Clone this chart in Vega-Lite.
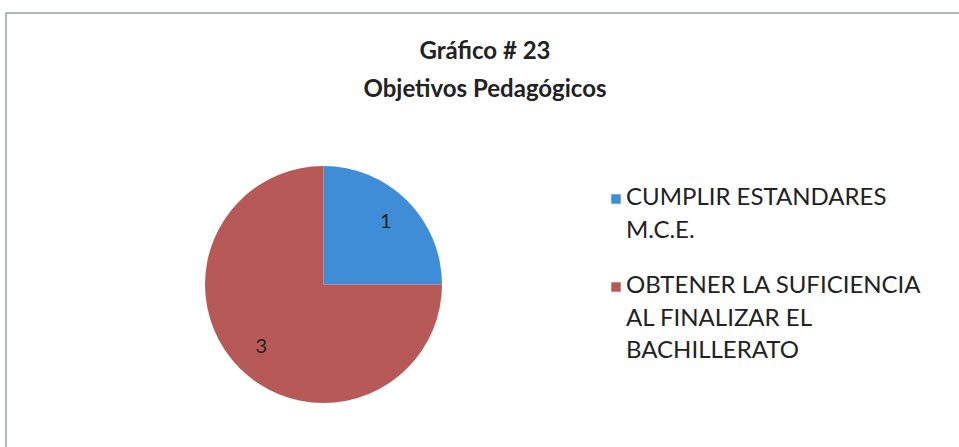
{
  "$schema": "https://vega.github.io/schema/vega-lite/v6.json",
  "width": 958,
  "height": 440,
  "autosize": {"type": "none"},
  "padding": {"left": 6, "top": 13, "right": 0, "bottom": 0},
  "background": "white",
  "title": {
    "text": ["Gráfico # 23", "Objetivos Pedagógicos"],
    "font": "Lato",
    "fontSize": 24,
    "fontWeight": "bold",
    "color": "#222222",
    "lineHeight": 38,
    "anchor": "middle",
    "frame": "group",
    "baseline": "top",
    "offset": -90
  },
  "config": {"view": {"stroke": null}},
  "data": {
    "values": [
      {"objetivo": "CUMPLIR ESTANDARES M.C.E.", "cantidad": 1, "orden": 1},
      {"objetivo": "OBTENER LA SUFICIENCIA AL FINALIZAR EL BACHILLERATO", "cantidad": 3, "orden": 2}
    ]
  },
  "layer": [
    {
      "data": {"values": [{"marco": "borde"}]},
      "mark": {"type": "rect", "fill": null, "stroke": "#93a2a0", "strokeWidth": 1.5},
      "encoding": {}
    },
    {
      "mark": {"type": "arc", "outerRadius": 118.5, "x": 317.5, "y": 271.5},
      "encoding": {
        "theta": {"field": "cantidad", "type": "quantitative", "stack": true},
        "order": {"field": "orden", "type": "quantitative"},
        "color": {
          "field": "objetivo",
          "type": "nominal",
          "sort": ["CUMPLIR ESTANDARES M.C.E.", "OBTENER LA SUFICIENCIA AL FINALIZAR EL BACHILLERATO"],
          "scale": {"range": ["#3E8DD6", "#B75A57"]},
          "legend": {
            "orient": "none",
            "legendX": 598,
            "legendY": 174,
            "title": null,
            "symbolType": "square",
            "symbolSize": 90,
            "symbolStrokeWidth": 0,
            "labelFont": "Lato",
            "labelFontSize": 24,
            "labelColor": "#222222",
            "labelLimit": 0,
            "labelOffset": -2,
            "labelBaseline": "top",
            "rowPadding": 31,
            "labelExpr": "datum.label == 'CUMPLIR ESTANDARES M.C.E.' ? ['CUMPLIR ESTANDARES', 'M.C.E.'] : ['OBTENER LA SUFICIENCIA', 'AL FINALIZAR EL', 'BACHILLERATO']",
            "encode": {"labels": {"update": {"lineHeight": {"value": 32.5}, "dy": {"value": -13}}}}
          }
        }
      }
    },
    {
      "mark": {"type": "text", "radius": 88, "x": 317.5, "y": 271.5, "font": "Lato", "fontSize": 20, "color": "#222222"},
      "encoding": {
        "theta": {"field": "cantidad", "type": "quantitative", "stack": true},
        "order": {"field": "orden", "type": "quantitative"},
        "detail": {"field": "objetivo", "type": "nominal"},
        "text": {"field": "cantidad", "type": "quantitative"}
      }
    }
  ]
}
